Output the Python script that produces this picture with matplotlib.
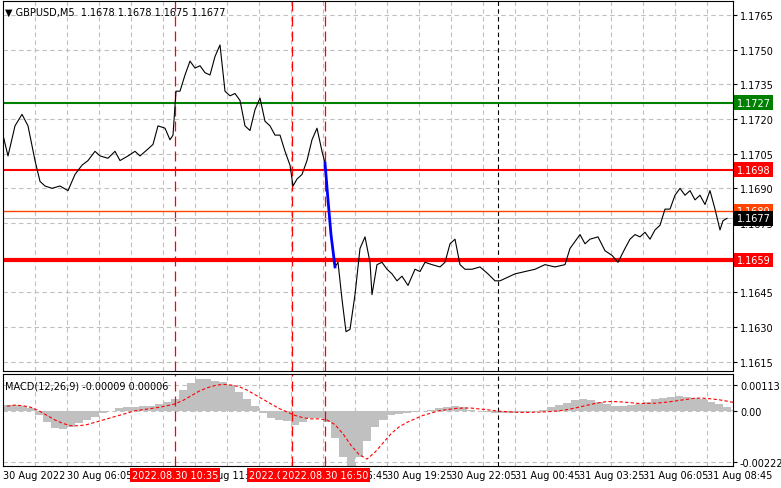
import numpy as np
import matplotlib
matplotlib.use("Agg")
import matplotlib.pyplot as plt
from matplotlib.transforms import blended_transform_factory

# 5-minute bar index vs close price
bars_a = [0, 2.5, 6, 9.5, 12.5, 16, 18.5, 21, 24.5, 28.5, 32.5, 36, 39.5, 42.5, 46, 48.5, 52.5, 56, 58.5, 62.5,
          66, 68.5, 72.5, 75, 77.5, 81, 83.5, 85, 86.5, 88.5, 91, 93.5, 96, 98.5, 101, 103.5, 106, 108.5, 111, 113.5,
          116, 118.5, 121, 123.5, 126, 128.5, 131, 133.5, 136, 138.5, 141, 143.5, 145, 147, 149.5, 152, 154.5, 157,
          159.5, 161]
close_a = [1.1713, 1.1704, 1.1717, 1.1722, 1.1717, 1.1702, 1.1693, 1.1691, 1.1690, 1.1691,
           1.1689, 1.1696, 1.1700, 1.1702, 1.1706, 1.1704, 1.1703, 1.1706, 1.1702, 1.1704,
           1.1706, 1.1704, 1.1707, 1.1709, 1.1717, 1.1716, 1.1711, 1.1713, 1.1732, 1.1732,
           1.1739, 1.1745, 1.1742, 1.1743, 1.1740, 1.1739, 1.1747, 1.1752, 1.1732, 1.1730,
           1.1731, 1.1728, 1.1717, 1.1715, 1.1724, 1.1729, 1.1719, 1.1717, 1.1713, 1.1713,
           1.1706, 1.1700, 1.1691, 1.1694, 1.1696, 1.1702, 1.1711, 1.1716, 1.1706, 1.1701]
bars_drop = [161, 162.5, 164, 166]
close_drop = [1.1701, 1.1685, 1.1670, 1.1656]
bars_b = [166, 167.5, 169.5, 171.5, 173.5, 176, 178.5, 181, 183.5, 184.5, 187, 189.5, 192, 194.5, 197, 199.5, 202.5,
          206, 208.5, 211, 214.5, 218.5, 221, 223.5, 226, 228.5, 231, 234.5, 238.5, 242.5, 246, 248.5, 251, 256,
          261, 266, 271, 276, 281, 283.5, 286, 288.5, 291, 293.5, 297.5, 301, 304.5, 307.5, 311, 313.5, 316, 318.5,
          321, 323.5, 326, 328.5, 331, 333.5, 336, 338.5, 341, 343.5, 346, 348.5, 351, 353.5, 356, 358.5, 360, 362]
close_b = [1.1656, 1.1658, 1.1642, 1.1628, 1.1629, 1.1644, 1.1664, 1.1669, 1.1658, 1.1644, 1.1657,
           1.1658, 1.1655, 1.1653, 1.1650, 1.1652, 1.1648, 1.1655, 1.1654, 1.1658, 1.1657,
           1.1656, 1.1658, 1.1666, 1.1668, 1.1657, 1.1655, 1.1655, 1.1656, 1.1653, 1.1650,
           1.1650, 1.1651, 1.1653, 1.1654, 1.1655, 1.1657, 1.1656, 1.1657, 1.1664, 1.1667,
           1.1670, 1.1666, 1.1668, 1.1669, 1.1663, 1.1661, 1.1658, 1.1664, 1.1668, 1.1670,
           1.1669, 1.1671, 1.1668, 1.1672, 1.1674, 1.1681, 1.1681, 1.1687, 1.1690, 1.1687,
           1.1689, 1.1685, 1.1687, 1.1683, 1.1689, 1.1681, 1.1672, 1.1676, 1.1677]

# MACD(12,26,9), one value every 4 bars, in 1e-5
macd_hist = [25, 25, 20, 10, -20, -50, -75, -80, -70, -55, -40, -25, -10, 0, 10, 15, 15, 20, 20, 30,
             40, 50, 90, 120, 140, 140, 130, 125, 110, 80, 50, 20, -10, -30, -40, -45, -60, -50, -30, -30,
             -50, -120, -200, -250, -200, -130, -70, -40, -20, -15, -10, -5, 0, 5, 10, 15, 20, 15, 5, 0,
             -5, -10, -10, -10, -5, -5, 0, 5, 15, 25, 35, 45, 50, 45, 40, 30, 20, 20, 25, 30,
             40, 50, 55, 60, 65, 60, 55, 50, 40, 30, 15, 5]
macd_signal = [20, 25, 22, 15, 0, -20, -40, -55, -65, -65, -60, -50, -40, -30, -20, -10, 0, 5, 10, 15,
               22, 30, 45, 65, 85, 100, 110, 115, 112, 105, 90, 70, 50, 30, 10, -5, -20, -30, -35, -35,
               -40, -60, -100, -150, -190, -210, -180, -140, -100, -70, -50, -35, -20, -10, 0, 5, 10, 12, 12, 8,
               5, 0, -3, -5, -7, -7, -6, -5, -3, 0, 5, 12, 20, 28, 35, 40, 40, 38, 35, 32,
               32, 33, 36, 40, 45, 50, 55, 55, 52, 48, 42, 35]

tick_bars = [0, 32, 64, 96, 128, 160, 192, 224, 256, 288, 320, 352]
tick_labels = ["30 Aug 2022", "30 Aug 06:05", "30 Aug 08:45", "30 Aug 11:25", "30 Aug 14:05", "30 Aug 16:45",
               "30 Aug 19:25", "30 Aug 22:05", "31 Aug 00:45", "31 Aug 03:25", "31 Aug 06:05", "31 Aug 08:45"]
price_ticks = [1.1615, 1.1630, 1.1645, 1.1660, 1.1675, 1.1690, 1.1705, 1.1720, 1.1735, 1.1750, 1.1765]
levels = [(1.1727, "#008000", 1.5), (1.1698, "#ff0000", 1.5), (1.1680, "#ff4500", 1.0), (1.1659, "#ff0000", 3.0)]
event_bars = [86, 144.5, 161]
event_labels = ["2022.08.30 10:35", "2022.08.30 14:50", "2022.08.30 16:50"]
period_sep = 247.5

W, H = 781, 489
fig = plt.figure(figsize=(W / 100, H / 100), dpi=100)
ax = fig.add_axes([3 / W, 1 - 372 / H, 730 / W, 370 / H])
axm = fig.add_axes([3 / W, 1 - 467 / H, 730 / W, 92 / H])
xmax = 365
FS = 7

for a in (ax, axm):
    a.set_xlim(0, xmax)
    a.yaxis.tick_right()
    a.tick_params(axis="both", labelsize=FS, length=3, color="black", pad=2)
    a.set_xticks(np.arange(16, xmax, 16), minor=False)
    a.grid(True, color="#c0c0c0", linestyle=(0, (4, 3)), linewidth=0.8)
    a.xaxis.set_ticklabels([])
    a.tick_params(axis="x", length=0)
    for s in a.spines.values():
        s.set_linewidth(0.8)
    a.axvline(period_sep, color="black", linestyle=(0, (4, 3)), linewidth=0.8)
    for b in event_bars:
        a.axvline(b, color="#ff0000", linestyle=(0, (8, 4)), linewidth=0.9)

ax.set_ylim(1.1611, 1.1771)
ax.set_yticks(price_ticks)
ax.set_yticklabels([f"{v:.4f}" for v in price_ticks])
ax.axhline(1.1677, color="#c0c0c0", linewidth=0.8)
for lv, c, lw in levels:
    ax.axhline(lv, color=c, linewidth=lw)
ax.plot(bars_a, close_a, color="black", linewidth=0.8)
ax.plot(bars_b, close_b, color="black", linewidth=0.8)
ax.plot(bars_drop, close_drop, color="#0000ff", linewidth=2)

tr = blended_transform_factory(ax.transAxes, ax.transData)
for lv, c, lw in levels:
    ax.text(1.005, lv, f"{lv:.4f}", transform=tr, fontsize=FS, color="white", va="center", ha="left",
            bbox=dict(boxstyle="square,pad=0.25", fc=c, ec="none"))
ax.text(1.005, 1.1677, "1.1677", transform=tr, fontsize=FS, color="white", va="center", ha="left",
        bbox=dict(boxstyle="square,pad=0.25", fc="black", ec="none"))
ax.text(0.003, 0.985, "\u25bc GBPUSD,M5  1.1678 1.1678 1.1675 1.1677", transform=ax.transAxes,
        fontsize=FS, va="top", ha="left")

mx = np.arange(len(macd_hist)) * 4
axm.bar(mx, np.array(macd_hist) * 1e-5, width=4, color="#c0c0c0", align="edge")
axm.plot(np.arange(len(macd_signal)) * 4 + 2, np.array(macd_signal) * 1e-5, color="#ff0000",
         linestyle=(0, (3, 2)), linewidth=0.8)
axm.set_ylim(-0.00240, 0.00160)
axm.set_yticks([0.00113, 0.0, -0.00222])
axm.set_yticklabels(["0.00113", "0.00", "-0.00222"])
axm.text(0.003, 0.93, "MACD(12,26,9) -0.00009 0.00006", transform=axm.transAxes, fontsize=FS, va="top")

for b, lab in zip(tick_bars, tick_labels):
    axm.text(b, -0.04, lab, transform=blended_transform_factory(axm.transData, axm.transAxes),
             fontsize=FS, ha="left", va="top")
for b, lab in zip(event_bars, event_labels):
    axm.text(b, -0.04, lab, transform=blended_transform_factory(axm.transData, axm.transAxes),
             fontsize=FS, ha="center", va="top", color="white",
             bbox=dict(boxstyle="square,pad=0.2", fc="#ff0000", ec="none"))

fig.savefig("out.png", dpi=100)
